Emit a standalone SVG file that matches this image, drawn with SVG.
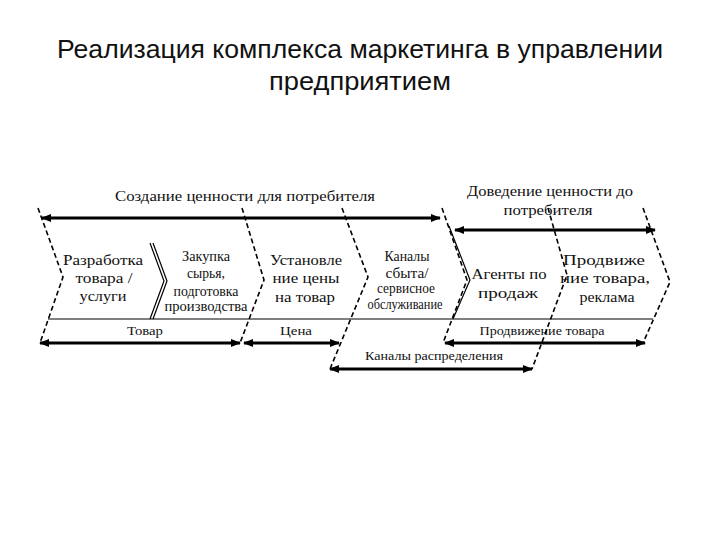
<svg xmlns="http://www.w3.org/2000/svg" width="720" height="540" viewBox="0 0 720 540">
<style>
.title{font-family:"Liberation Sans","DejaVu Sans",sans-serif;font-size:25px;fill:#111;text-anchor:middle}
.lbl{font-family:"Liberation Serif","DejaVu Serif",serif;font-size:15px;fill:#111;text-anchor:middle}
.sm{font-family:"Liberation Serif","DejaVu Serif",serif;font-size:14px;fill:#111;text-anchor:middle}
.xs{font-family:"Liberation Serif","DejaVu Serif",serif;font-size:12px;fill:#111;text-anchor:middle}
.arr{stroke:#000;stroke-width:3;fill:none;marker-start:url(#ah);marker-end:url(#ah)}
.dash{stroke:#000;stroke-width:1.6;fill:none;stroke-dasharray:5 3}
.solid{stroke:#000;stroke-width:1.2;fill:none}
</style>
<defs>
<marker id="ah" viewBox="0 0 10 8" refX="9" refY="4" markerWidth="10" markerHeight="8" markerUnits="userSpaceOnUse" orient="auto-start-reverse">
<path d="M0,0 L10,4 L0,8 Z" fill="#000"/>
</marker>
</defs>
<rect width="720" height="540" fill="#fff"/>
<g id="title">
<text class="title" x="360" y="58" textLength="606" lengthAdjust="spacingAndGlyphs">Реализация комплекса маркетинга в управлении</text>
<text class="title" x="360" y="90" textLength="182" lengthAdjust="spacingAndGlyphs">предприятием</text>
</g>
<g id="boundaries">
<line class="solid" x1="48" y1="319" x2="653" y2="319"/>
<polyline class="dash" points="38,208 63,277 40,343"/>
<polyline class="solid" points="150,243 164,281 150,319"/>
<polyline class="solid" points="153,243 167,281 153,319"/>
<polyline class="dash" points="242,208 264,280 240,343"/>
<polyline class="dash" points="342,208 368,277 330,369"/>
<polyline class="dash" points="442,208 467,280 443,343"/>
<polyline class="solid" points="449,226 470,280 453,319"/>
<polyline class="dash" points="548,208 567,275 532,369"/>
<polyline class="dash" points="643,208 670,282 643,343"/>
</g>
<g id="connectors">
<line class="arr" x1="42" y1="218" x2="440" y2="218"/>
<line class="arr" x1="455" y1="230" x2="655" y2="230"/>
<line class="arr" x1="40" y1="343" x2="240" y2="343"/>
<line class="arr" x1="244" y1="343" x2="339" y2="343"/>
<line class="arr" x1="445" y1="343" x2="645" y2="343"/>
<line class="arr" x1="330" y1="369" x2="532" y2="369"/>
</g>
<g id="stage-labels">
<text class="lbl" x="245" y="201" textLength="260" lengthAdjust="spacingAndGlyphs">Создание ценности для потребителя</text>
<text class="lbl" x="550" y="196" textLength="166" lengthAdjust="spacingAndGlyphs">Доведение ценности до</text>
<text class="lbl" x="548" y="215" textLength="89" lengthAdjust="spacingAndGlyphs">потребителя</text>
<text class="xs" x="145" y="335" textLength="36" lengthAdjust="spacingAndGlyphs">Товар</text>
<text class="xs" x="296" y="335" textLength="32" lengthAdjust="spacingAndGlyphs">Цена</text>
<text class="xs" x="542" y="335" textLength="125" lengthAdjust="spacingAndGlyphs">Продвижение товара</text>
<text class="xs" x="434" y="360" textLength="138" lengthAdjust="spacingAndGlyphs">Каналы распределения</text>
</g>
<g id="node1">
<text class="lbl" x="103" y="265" textLength="80" lengthAdjust="spacingAndGlyphs">Разработка</text>
<text class="lbl" x="104" y="283" textLength="57" lengthAdjust="spacingAndGlyphs">товара /</text>
<text class="lbl" x="103" y="301" textLength="47" lengthAdjust="spacingAndGlyphs">услуги</text>
</g>
<g id="node2">
<text class="sm" x="206" y="261" textLength="48" lengthAdjust="spacingAndGlyphs">Закупка</text>
<text class="sm" x="206" y="278" textLength="38" lengthAdjust="spacingAndGlyphs">сырья,</text>
<text class="sm" x="206" y="296" textLength="65" lengthAdjust="spacingAndGlyphs">подготовка</text>
<text class="sm" x="206" y="311" textLength="83" lengthAdjust="spacingAndGlyphs">производства</text>
</g>
<g id="node3">
<text class="lbl" x="306" y="265" textLength="72" lengthAdjust="spacingAndGlyphs">Установле</text>
<text class="lbl" x="306" y="283" textLength="67" lengthAdjust="spacingAndGlyphs">ние цены</text>
<text class="lbl" x="305" y="302" textLength="60" lengthAdjust="spacingAndGlyphs">на товар</text>
</g>
<g id="node4">
<text class="sm" x="407" y="261" textLength="45" lengthAdjust="spacingAndGlyphs">Каналы</text>
<text class="sm" x="407" y="278" textLength="43" lengthAdjust="spacingAndGlyphs">сбыта/</text>
<text class="sm" x="406" y="293" textLength="58" lengthAdjust="spacingAndGlyphs">сервисное</text>
<text class="sm" x="405" y="309" textLength="75" lengthAdjust="spacingAndGlyphs">обслуживание</text>
</g>
<g id="node5">
<text class="lbl" x="509" y="279" textLength="75" lengthAdjust="spacingAndGlyphs">Агенты по</text>
<text class="lbl" x="508" y="298" textLength="60" lengthAdjust="spacingAndGlyphs">продаж</text>
</g>
<g id="node6">
<text class="lbl" x="604" y="265" textLength="82" lengthAdjust="spacingAndGlyphs">Продвиже</text>
<text class="lbl" x="605" y="283" textLength="90" lengthAdjust="spacingAndGlyphs">ние товара,</text>
<text class="lbl" x="607" y="302" textLength="55" lengthAdjust="spacingAndGlyphs">реклама</text>
</g>
</svg>
